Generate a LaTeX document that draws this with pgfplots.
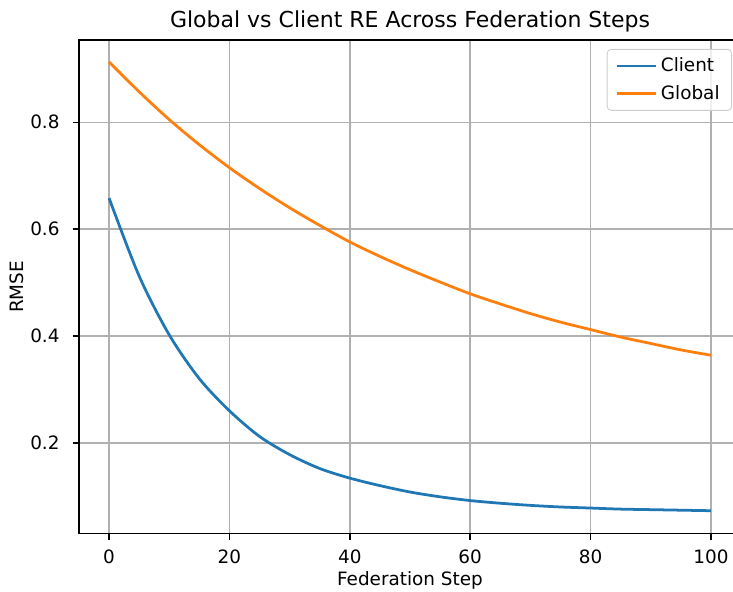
\documentclass[border=0pt]{standalone}
\usepackage{fontspec}
\setmainfont{DejaVu Sans}
\usepackage{pgfplots}
\pgfplotsset{compat=1.18}
\definecolor{mplblue}{HTML}{1F77B4}
\definecolor{mplorange}{HTML}{FF7F0E}
\definecolor{gridgray}{HTML}{B0B0B0}
\definecolor{legendgray}{HTML}{CCCCCC}
\begin{document}
\begin{tikzpicture}
\useasboundingbox (-39.5pt,-29.15pt) rectangle (327pt,266.85pt);
\begin{axis}[
  scale only axis,
  width=331pt, height=246.85pt,
  xmin=-5, xmax=105,
  ymin=0.030, ymax=0.954,
  xtick={0,20,40,60,80,100},
  ytick={0.2,0.4,0.6,0.8},
  yticklabel style={/pgf/number format/fixed,/pgf/number format/fixed zerofill,/pgf/number format/precision=1},
  /pgf/number format/assume math mode=true,
  tick label style={font=\fontsize{9.2}{11}\selectfont},
  tick pos=left,
  tick align=outside,
  major tick length=3.2pt,
  every tick/.style={black, line width=0.74pt},
  axis line style={line width=0.74pt},
  grid=major,
  major grid style={gridgray, line width=0.74pt},
  xticklabel style={yshift=-1.5pt},
  yticklabel style={xshift=-3pt},
  title={Global vs Client RE Across Federation Steps},
  every axis title shift=0pt,
  title style={font=\fontsize{11}{13}\selectfont, at={(0.5,1)}, anchor=base, yshift=6pt},
  xlabel={Federation Step},
  ylabel={RMSE},
  every axis x label/.style={at={(axis description cs:0.5,0)}, anchor=base, yshift=-26pt, font=\fontsize{9.2}{11}\selectfont},
  every axis y label/.style={at={(axis description cs:0,0.5)}, anchor=base, rotate=90, yshift=27.5pt, font=\fontsize{9.2}{11}\selectfont},
  legend style={at={(1,1)}, anchor=north east, xshift=-4.5pt, yshift=-4.5pt,
    draw=legendgray, rounded corners=2pt, fill=white, fill opacity=0.8, text opacity=1,
    font=\fontsize{9.2}{11}\selectfont, inner xsep=4pt, inner ysep=2pt, row sep=1.5pt},
  legend cell align=left,
  legend image code/.code={\draw[#1, line width=1.38pt] (0pt,0pt) -- (19.5pt,0pt);},
]
\addplot[mplblue, line width=1.38pt, smooth] coordinates {
(0,0.658) (5,0.512) (10,0.402) (15,0.320) (20,0.260) (25,0.212) (30,0.178)
(35,0.152) (40,0.134) (45,0.120) (50,0.108) (55,0.099) (60,0.092) (65,0.087)
(70,0.083) (75,0.080) (80,0.078) (85,0.076) (90,0.075) (95,0.074) (100,0.073)
};
\addlegendentry{Client}
\addplot[mplorange, line width=1.38pt, smooth] coordinates {
(0,0.913) (5,0.857) (10,0.805) (15,0.758) (20,0.715) (25,0.676) (30,0.640)
(35,0.607) (40,0.576) (45,0.549) (50,0.524) (55,0.501) (60,0.479) (65,0.460)
(70,0.442) (75,0.426) (80,0.412) (85,0.398) (90,0.386) (95,0.374) (100,0.364)
};
\addlegendentry{Global}
\end{axis}
\end{tikzpicture}
\end{document}
